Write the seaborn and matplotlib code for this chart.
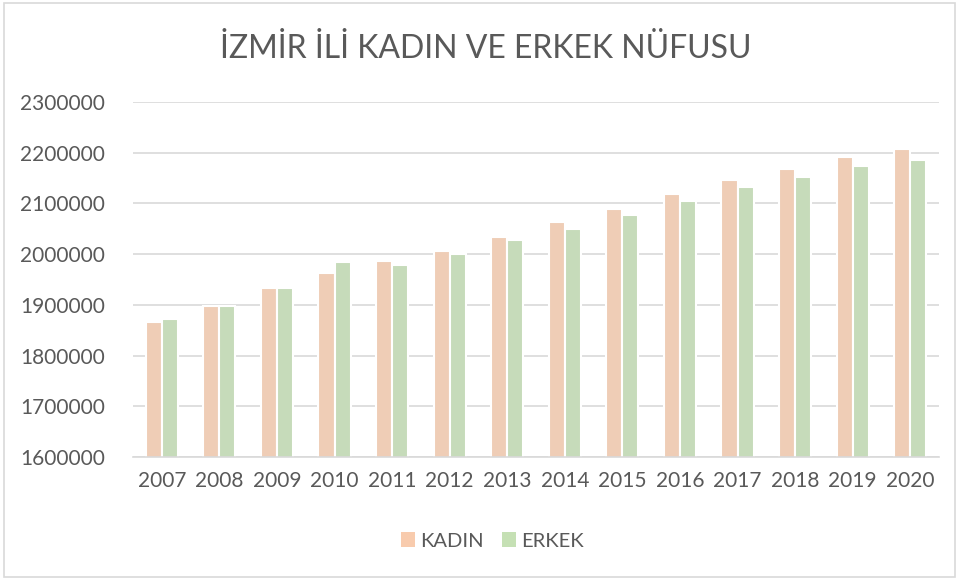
import matplotlib
matplotlib.use("Agg")
import matplotlib.pyplot as plt
import seaborn as sns
import pandas as pd
from matplotlib.patches import Rectangle, Patch

years = [2007, 2008, 2009, 2010, 2011, 2012, 2013, 2014, 2015, 2016, 2017, 2018, 2019, 2020]
kadin = [1866400, 1898000, 1934200, 1963200, 1985500, 2005900, 2032900,
         2062500, 2088800, 2118400, 2145400, 2167100, 2192100, 2206600]
erkek = [1871700, 1897400, 1932900, 1984900, 1978300, 1999300, 2027000,
         2050000, 2077600, 2103900, 2132200, 2152000, 2173700, 2186200]
series = ["KADIN", "ERKEK"]
colors = ["#F8CBAD", "#C5E0B4"]
title = "İZMİR İLİ KADIN VE ERKEK NÜFUSU"
yticks = [1600000, 1700000, 1800000, 1900000, 2000000, 2100000, 2200000, 2300000]

df = pd.DataFrame({
    "Yıl": [str(y) for y in years] * 2,
    "Nüfus": kadin + erkek,
    "Cinsiyet": [series[0]] * len(years) + [series[1]] * len(years),
})

sns.set_theme(style="white")
plt.rcParams["font.family"] = ["Lato", "DejaVu Sans"]
text_color = "#595959"

fig = plt.figure(figsize=(9.56, 5.78), dpi=100)
ax = fig.add_axes([133 / 956, 1 - 457 / 578, (939 - 133) / 956, (457 - 102) / 578])

sns.barplot(data=df, x="Yıl", y="Nüfus", hue="Cinsiyet", palette=colors,
            width=0.56, ax=ax, edgecolor="white", linewidth=1.5, legend=False,
            errorbar=None)

ax.set_ylim(1600000, 2300000)
ax.set_yticks(yticks)
ax.set_yticklabels([str(v) for v in yticks])
ax.set_xlabel("")
ax.set_ylabel("")
ax.grid(axis="y", color="#D9D9D9", linewidth=1.2)
ax.set_axisbelow(True)
for s in ["top", "right", "left"]:
    ax.spines[s].set_visible(False)
ax.spines["bottom"].set_color("#D9D9D9")
ax.spines["bottom"].set_linewidth(1.2)
ax.tick_params(axis="both", length=0, labelsize=15, labelcolor=text_color)
ax.tick_params(axis="y", pad=20)
ax.tick_params(axis="x", pad=10)

fig.text(486 / 956, 1 - 49 / 578, title, ha="center", va="center", fontsize=23,
         color=text_color, fontweight="normal")

handles = [Patch(facecolor=c, edgecolor="none") for c in colors]
fig.legend(handles, series, loc="center", bbox_to_anchor=(492 / 956, 1 - 541 / 578),
           ncol=2, frameon=False, fontsize=14.5, labelcolor=text_color,
           handlelength=0.7, handleheight=0.7, handletextpad=0.25, columnspacing=0.9)

fig.patches.append(Rectangle((4 / 956, 1 / 578), 951 / 956, 574 / 578,
                             transform=fig.transFigure, fill=False,
                             edgecolor="#D9D9D9", linewidth=1.2))

fig.savefig("out.png", dpi=100)
